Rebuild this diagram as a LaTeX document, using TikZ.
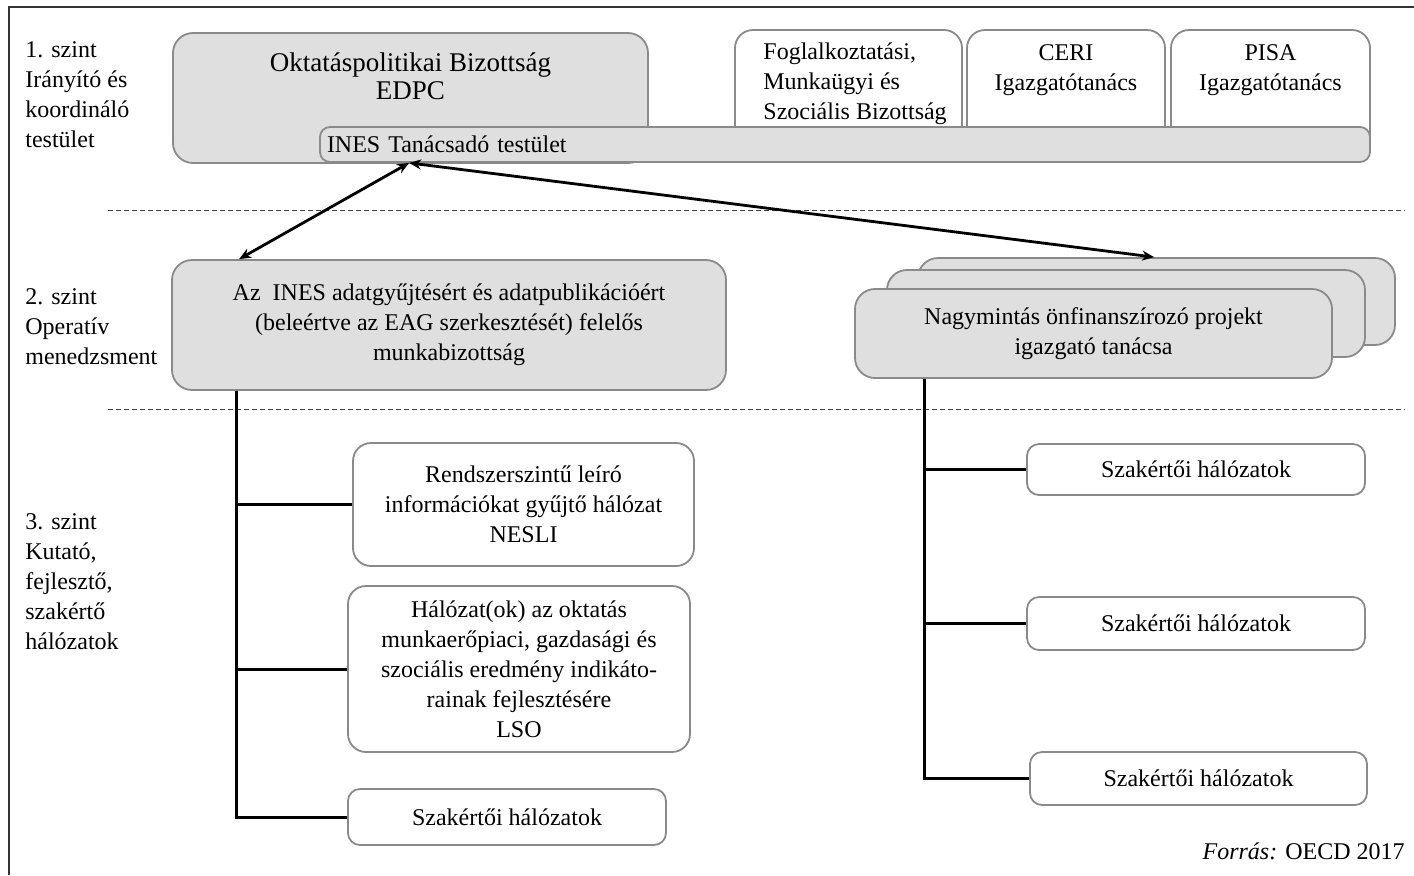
\documentclass[tikz,border=0pt]{standalone}
\usepackage{fontspec}
\setmainfont{Liberation Serif}
\usetikzlibrary{arrows.meta}

\definecolor{boxgray}{HTML}{DFDFDF}
\definecolor{edgegray}{HTML}{8A8A8A}

\tikzset{
	txt/.style={font=\fontsize{12}{15}\selectfont, align=center, inner sep=0pt},
	gbox/.style={draw=edgegray, line width=0.9pt, fill=boxgray, rounded corners=10pt, inner sep=0pt, txt},
	wbox/.style={draw=edgegray, line width=0.9pt, fill=white, rounded corners=9pt, inner sep=0pt, txt},
	sbox/.style={wbox, rounded corners=6pt},
	level/.style={txt, align=left, anchor=west},
	sep/.style={dash pattern=on 2.5pt off 1.5pt, line width=0.5pt, black!75},
	tree/.style={line width=1.5pt},
	link/.style={line width=1.4pt, {Stealth[length=6pt,width=5pt]}-{Stealth[length=6pt,width=5pt]}}
}

\begin{document}
\begin{tikzpicture}[x=0.5pt, y=-0.5pt]
		\useasboundingbox (0,0) rectangle (1414,875);
		\draw[line width=0.7pt, black!80] (9,875) -- (9,7) -- (1414,7);
		
		\node[level] (lev1) at (25,95) {1. szint\\Irányító és\\koordináló\\testület};
		\node[level] (lev2) at (25,327) {2. szint\\Operatív\\menedzsment};
		\node[level] (lev3) at (25,582) {3. szint\\Kutató,\\fejlesztő,\\szakértő\\hálózatok};
		
		\draw[sep] (108,210) -- (1405,210);
		\draw[sep] (108,409) -- (1405,409);
		
		\node[wbox, minimum width=113.5pt, minimum height=65pt] (fogl) at (848.5,95) {};
		\node[wbox, minimum width=99pt, minimum height=65pt] (ceri) at (1066,95) {};
		\node[wbox, minimum width=99.5pt, minimum height=65pt] (pisa) at (1270.5,95) {};
		\node[level] (fogll) at (763,84) {Foglalkoztatási,\\Munkaügyi és\\Szociális Bizottság};
		\node[txt] (ceril) at (1066,70) {CERI\\Igazgatótanács};
		\node[txt] (pisal) at (1270.5,70) {PISA\\Igazgatótanács};
		
		\node[gbox, minimum width=237.5pt, minimum height=65pt] (edpc) at (410.5,98) {};
		\node[txt, font=\fontsize{13.5}{14}\selectfont] (edpcl) at (410.5,76) {Oktatáspolitikai Bizottság\\EDPC};
		\node[gbox, rounded corners=5pt, minimum width=525pt, minimum height=17.5pt, inner xsep=3.5pt, text width=518pt, align=left] (ines) at (845,144.5) {INES Tanácsadó testület};
		
		\node[gbox, minimum width=277pt, minimum height=65pt] (ops) at (449,325) {Az \ INES adatgyűjtésért és adatpublikációért\\(beleértve az EAG szerkesztését) felelős\\munkabizottság};
		
		\node[gbox, minimum width=238.5pt, minimum height=43.5pt] (proj3) at (1156.5,301.5) {};
		\node[gbox, minimum width=239pt, minimum height=43.5pt] (proj2) at (1126,313.5) {};
		\node[gbox, minimum width=238.5pt, minimum height=44.5pt] (proj1) at (1093.5,333.5) {Nagymintás önfinanszírozó projekt\\igazgató tanácsa};
		
		\draw[link] ([xshift=34pt]ops.north west) -- ([xshift=45pt]ines.south west);
		\draw[link] ([xshift=45pt]ines.south west) -- ([xshift=118.5pt]proj3.north west);
		
		\node[wbox, minimum width=170.5pt, minimum height=61.5pt] (nesli) at (523.5,504.5) {Rendszerszintű leíró\\információkat gyűjtő hálózat\\NESLI};
		\node[wbox, minimum width=171pt, minimum height=83pt] (lso) at (519,669) {Hálózat(ok) az oktatás\\munkaerőpiaci, gazdasági és\\szociális eredmény indikáto-\\rainak fejlesztésére\\LSO};
		\node[sbox, minimum width=159pt, minimum height=28pt] (lsz) at (507,817) {Szakértői hálózatok};
		
		\node[sbox, minimum width=169pt, minimum height=25.5pt] (rsz1) at (1196,469.5) {Szakértői hálózatok};
		\node[sbox, minimum width=169pt, minimum height=26.5pt] (rsz2) at (1196,623.5) {Szakértői hálózatok};
		\node[sbox, minimum width=168.5pt, minimum height=26.5pt] (rsz3) at (1198.5,778.5) {Szakértői hálózatok};
		
		\coordinate (ltrunk) at ([xshift=32.5pt]ops.south west);
		\coordinate (rtrunk) at ([xshift=35pt]proj1.south west);
		
		\draw[tree] (ltrunk) |- (lsz.west);
		\draw[tree] (nesli.west) -- (nesli.west -| ltrunk);
		\draw[tree] (lso.west) -- (lso.west -| ltrunk);
		
		\draw[tree] (rtrunk) |- (rsz3.west);
		\draw[tree] (rsz1.west) -- (rsz1.west -| rtrunk);
		\draw[tree] (rsz2.west) -- (rsz2.west -| rtrunk);
		
		\node[txt, anchor=east] (src) at (1405,851) {\textit{Forrás:} OECD 2017};
	
	\end{tikzpicture}
\end{document}
